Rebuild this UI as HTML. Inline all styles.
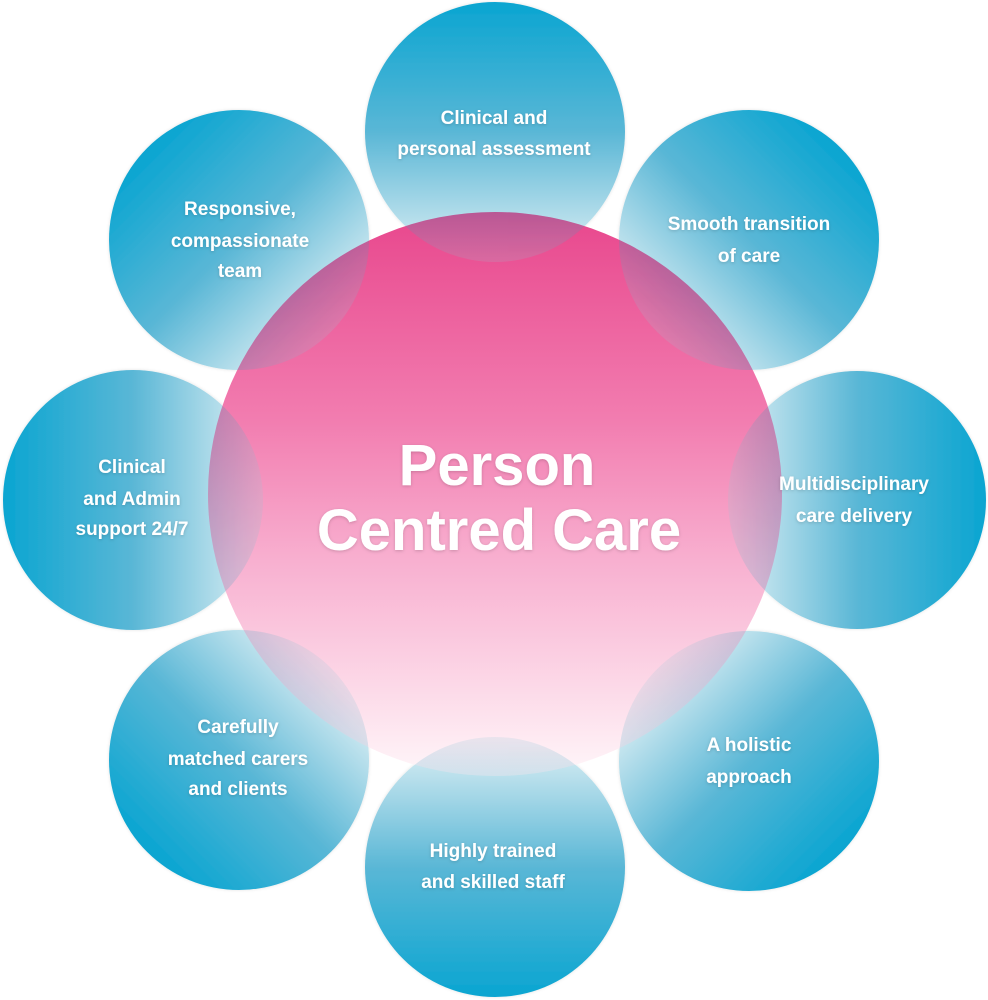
<!DOCTYPE html>
<html>
<head>
<meta charset="utf-8">
<style>
  html, body { margin: 0; padding: 0; background: #ffffff; }
  body { width: 988px; height: 1000px; overflow: hidden; }
  svg { display: block; }
  .lbl { font-family: "Liberation Sans", "DejaVu Sans", sans-serif; font-weight: bold; font-size: 19px; fill: #ffffff; }
  .big { font-family: "Liberation Sans", "DejaVu Sans", sans-serif; font-weight: bold; font-size: 58px; fill: #ffffff; }
  .mul { mix-blend-mode: multiply; }
</style>
</head>
<body>
<svg width="988" height="1000" viewBox="0 0 988 1000" xmlns="http://www.w3.org/2000/svg">
  <defs>
    <linearGradient id="gTop" x1="0" y1="0" x2="0" y2="1">
      <stop offset="0" stop-color="#0aa5d1"/>
      <stop offset="0.5" stop-color="#5ab7d6"/>
      <stop offset="1" stop-color="#e2f1f5"/>
    </linearGradient>
    <linearGradient id="gBottom" x1="0" y1="1" x2="0" y2="0">
      <stop offset="0" stop-color="#0aa5d1"/>
      <stop offset="0.5" stop-color="#5ab7d6"/>
      <stop offset="1" stop-color="#e2f1f5"/>
    </linearGradient>
    <linearGradient id="gLeft" x1="0" y1="0" x2="1" y2="0">
      <stop offset="0" stop-color="#0aa5d1"/>
      <stop offset="0.5" stop-color="#5ab7d6"/>
      <stop offset="1" stop-color="#e2f1f5"/>
    </linearGradient>
    <linearGradient id="gRight" x1="1" y1="0" x2="0" y2="0">
      <stop offset="0" stop-color="#0aa5d1"/>
      <stop offset="0.5" stop-color="#5ab7d6"/>
      <stop offset="1" stop-color="#e2f1f5"/>
    </linearGradient>
    <linearGradient id="gTL" x1="0.15" y1="0.15" x2="0.85" y2="0.85">
      <stop offset="0" stop-color="#0aa5d1"/>
      <stop offset="0.5" stop-color="#5ab7d6"/>
      <stop offset="1" stop-color="#e2f1f5"/>
    </linearGradient>
    <linearGradient id="gTR" x1="0.85" y1="0.15" x2="0.15" y2="0.85">
      <stop offset="0" stop-color="#0aa5d1"/>
      <stop offset="0.5" stop-color="#5ab7d6"/>
      <stop offset="1" stop-color="#e2f1f5"/>
    </linearGradient>
    <linearGradient id="gBL" x1="0.15" y1="0.85" x2="0.85" y2="0.15">
      <stop offset="0" stop-color="#0aa5d1"/>
      <stop offset="0.5" stop-color="#5ab7d6"/>
      <stop offset="1" stop-color="#e2f1f5"/>
    </linearGradient>
    <linearGradient id="gBR" x1="0.85" y1="0.85" x2="0.15" y2="0.15">
      <stop offset="0" stop-color="#0aa5d1"/>
      <stop offset="0.5" stop-color="#5ab7d6"/>
      <stop offset="1" stop-color="#e2f1f5"/>
    </linearGradient>
    <linearGradient id="gPink" x1="0" y1="0" x2="0" y2="1">
      <stop offset="0" stop-color="#e8478d"/>
      <stop offset="0.37" stop-color="#f27db0"/>
      <stop offset="0.62" stop-color="#f8b0d0"/>
      <stop offset="1" stop-color="#fff6f9"/>
    </linearGradient>
    <clipPath id="pinkClip">
      <ellipse cx="495" cy="494" rx="287" ry="282"/>
    </clipPath>
    <filter id="soft" x="-10%" y="-10%" width="120%" height="120%">
      <feDropShadow dx="0" dy="0" stdDeviation="1.5" flood-color="#000000" flood-opacity="0.12"/>
    </filter>
    <filter id="tsh" x="-10%" y="-30%" width="120%" height="160%">
      <feDropShadow dx="0" dy="1" stdDeviation="1.5" flood-color="#000000" flood-opacity="0.18"/>
    </filter>
  </defs>

  <!-- outer blue circles -->
  <g filter="url(#soft)">
    <circle cx="495" cy="132" r="130" fill="url(#gTop)"/>
    <circle cx="749" cy="240" r="130" fill="url(#gTR)"/>
    <circle cx="857" cy="500" r="129" fill="url(#gRight)"/>
    <circle cx="749" cy="761" r="130" fill="url(#gBR)"/>
    <circle cx="495" cy="867" r="130" fill="url(#gBottom)"/>
    <circle cx="239" cy="760" r="130" fill="url(#gBL)"/>
    <circle cx="133" cy="500" r="130" fill="url(#gLeft)"/>
    <circle cx="239" cy="240" r="130" fill="url(#gTL)"/>
  </g>

  <!-- central pink circle (opaque) -->
  <ellipse cx="495" cy="494" rx="287" ry="282" fill="url(#gPink)"/>

  <!-- overlap tint: blue circles multiplied over the pink, clipped per element -->
  <circle class="mul" opacity="0.62" clip-path="url(#pinkClip)" cx="495" cy="132" r="130" fill="url(#gTop)"/>
  <circle class="mul" opacity="0.62" clip-path="url(#pinkClip)" cx="749" cy="240" r="130" fill="url(#gTR)"/>
  <circle class="mul" opacity="0.62" clip-path="url(#pinkClip)" cx="857" cy="500" r="129" fill="url(#gRight)"/>
  <circle class="mul" opacity="0.62" clip-path="url(#pinkClip)" cx="749" cy="761" r="130" fill="url(#gBR)"/>
  <circle class="mul" opacity="0.62" clip-path="url(#pinkClip)" cx="495" cy="867" r="130" fill="url(#gBottom)"/>
  <circle class="mul" opacity="0.62" clip-path="url(#pinkClip)" cx="239" cy="760" r="130" fill="url(#gBL)"/>
  <circle class="mul" opacity="0.62" clip-path="url(#pinkClip)" cx="133" cy="500" r="130" fill="url(#gLeft)"/>
  <circle class="mul" opacity="0.62" clip-path="url(#pinkClip)" cx="239" cy="240" r="130" fill="url(#gTL)"/>

  <!-- slight normal tint for lightness in overlaps -->
  <g clip-path="url(#pinkClip)" opacity="0.15">
    <circle cx="495" cy="132" r="130" fill="url(#gTop)"/>
    <circle cx="749" cy="240" r="130" fill="url(#gTR)"/>
    <circle cx="857" cy="500" r="129" fill="url(#gRight)"/>
    <circle cx="749" cy="761" r="130" fill="url(#gBR)"/>
    <circle cx="495" cy="867" r="130" fill="url(#gBottom)"/>
    <circle cx="239" cy="760" r="130" fill="url(#gBL)"/>
    <circle cx="133" cy="500" r="130" fill="url(#gLeft)"/>
    <circle cx="239" cy="240" r="130" fill="url(#gTL)"/>
  </g>

  <!-- labels -->
  <g filter="url(#tsh)">
    <text class="big" x="497" y="485" text-anchor="middle">Person</text>
    <text class="big" x="499" y="550" text-anchor="middle">Centred Care</text>

    <text class="lbl" x="494" y="124" text-anchor="middle">Clinical and</text>
    <text class="lbl" x="494" y="155" text-anchor="middle">personal assessment</text>

    <text class="lbl" x="749" y="230" text-anchor="middle">Smooth transition</text>
    <text class="lbl" x="749" y="262" text-anchor="middle">of care</text>

    <text class="lbl" x="854" y="490" text-anchor="middle">Multidisciplinary</text>
    <text class="lbl" x="854" y="522" text-anchor="middle">care delivery</text>

    <text class="lbl" x="749" y="751" text-anchor="middle">A holistic</text>
    <text class="lbl" x="749" y="783" text-anchor="middle">approach</text>

    <text class="lbl" x="493" y="857" text-anchor="middle">Highly trained</text>
    <text class="lbl" x="493" y="888" text-anchor="middle">and skilled staff</text>

    <text class="lbl" x="238" y="733" text-anchor="middle">Carefully</text>
    <text class="lbl" x="238" y="765" text-anchor="middle">matched carers</text>
    <text class="lbl" x="238" y="795" text-anchor="middle">and clients</text>

    <text class="lbl" x="132" y="473" text-anchor="middle">Clinical</text>
    <text class="lbl" x="132" y="505" text-anchor="middle">and Admin</text>
    <text class="lbl" x="132" y="535" text-anchor="middle">support 24/7</text>

    <text class="lbl" x="240" y="215" text-anchor="middle">Responsive,</text>
    <text class="lbl" x="240" y="247" text-anchor="middle">compassionate</text>
    <text class="lbl" x="240" y="277" text-anchor="middle">team</text>
  </g>
</svg>
</body>
</html>
